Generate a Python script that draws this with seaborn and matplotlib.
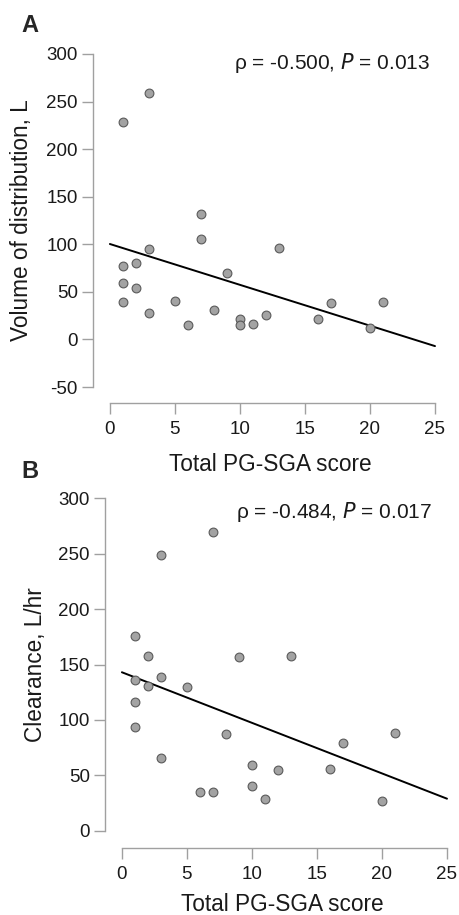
import matplotlib
matplotlib.use("Agg")
import matplotlib.pyplot as plt
import seaborn as sns
import pandas as pd
import numpy as np

sns.set_style("white")
plt.rcParams['font.family'] = ['Liberation Sans', 'DejaVu Sans']
plt.rcParams['axes.unicode_minus'] = False

# Data
pgsga_a = [1, 3, 7, 7, 3, 13, 1, 2, 1, 2, 9, 1, 5, 3, 6, 8, 10, 10, 11, 12, 16, 17, 20, 21]
vd = [228, 259, 132, 106, 95, 96, 77, 80, 59, 54, 70, 39, 40, 28, 15, 31, 21, 15, 16, 26, 22, 38, 12, 39]
pgsga_b = [7, 3, 1, 2, 9, 13, 1, 2, 3, 5, 1, 1, 8, 3, 6, 7, 10, 10, 11, 12, 16, 17, 20, 21]
cl = [270, 249, 176, 158, 157, 158, 136, 131, 139, 130, 116, 94, 87, 66, 35, 35, 59, 40, 29, 55, 56, 79, 27, 88]

fit_x = [0, 25]
fit_a = [100.3, -7.0]
fit_b = [143.0, 28.9]

xticks = [0, 5, 10, 15, 20, 25]
yticks_a = [-50, 0, 50, 100, 150, 200, 250, 300]
yticks_b = [0, 50, 100, 150, 200, 250, 300]

W, H = 459, 915
fig = plt.figure(figsize=(W / 100, H / 100), dpi=100)

def px_axes(left, right, top, bottom):
    return fig.add_axes([left / W, (H - bottom) / H, (right - left) / W, (bottom - top) / H])

axA = px_axes(93, 448, 38, 403)
axB = px_axes(105, 460, 481, 848)

spine_col = '#a0a0a0'
txt_col = '#1a1a1a'

def style(ax, x, y, fitv, yt, ylim, ylabel, ann, ann_xy, ylab_x, xlab_pad):
    df = pd.DataFrame({'x': x, 'y': y})
    sns.scatterplot(data=df, x='x', y='y', ax=ax, s=40, color='#a3a3a3',
                    edgecolor='#5a5a5a', linewidth=0.8, zorder=3)
    dfl = pd.DataFrame({'x': fit_x, 'y': fitv})
    sns.lineplot(data=dfl, x='x', y='y', ax=ax, color='black', linewidth=1.4, zorder=2)
    ax.set_xlim(-1.3, 26)
    ax.set_ylim(*ylim)
    ax.set_xticks(xticks)
    ax.set_yticks(yt)
    for s in ['top', 'right']:
        ax.spines[s].set_visible(False)
    ax.spines['left'].set_bounds(yt[0], yt[-1])
    ax.spines['bottom'].set_bounds(0, 25)
    for s in ['left', 'bottom']:
        ax.spines[s].set_color(spine_col)
        ax.spines[s].set_linewidth(1.0)
    ax.tick_params(axis='both', which='both', direction='out', length=8, width=1.0,
                   color=spine_col, labelsize=13.5, labelcolor=txt_col, left=True, bottom=True)
    ax.tick_params(axis='y', pad=3)
    ax.tick_params(axis='x', pad=5)
    ax.set_xlabel('Total PG-SGA score', fontsize=16.3, color=txt_col, labelpad=xlab_pad)
    ax.set_ylabel(ylabel, fontsize=16.3, color=txt_col, va='center')
    ax.yaxis.set_label_coords(ylab_x, 0.5)
    ax.text(ann_xy[0], ann_xy[1], ann, transform=ax.transAxes, ha='right', va='center',
            fontsize=15, color=txt_col)

style(axA, pgsga_a, vd, fit_a, yticks_a, (-66.8, 316.8), 'Volume of distribution, L',
      r'ρ = -0.500, $\it{P}$ = 0.013', (0.949, 0.932), (22 - 93) / 355, 11)
style(axB, pgsga_b, cl, fit_b, yticks_b, (-15.6, 315.6), 'Clearance, L/hr',
      r'ρ = -0.484, $\it{P}$ = 0.017', (0.921, 0.916), (35 - 105) / 355, 7)

fig.text(21 / W, 1 - 26 / H, 'A', fontsize=17, fontweight='bold', va='center', ha='left')
fig.text(21 / W, 1 - 472 / H, 'B', fontsize=17, fontweight='bold', va='center', ha='left')

fig.savefig('out.png', dpi=100)
